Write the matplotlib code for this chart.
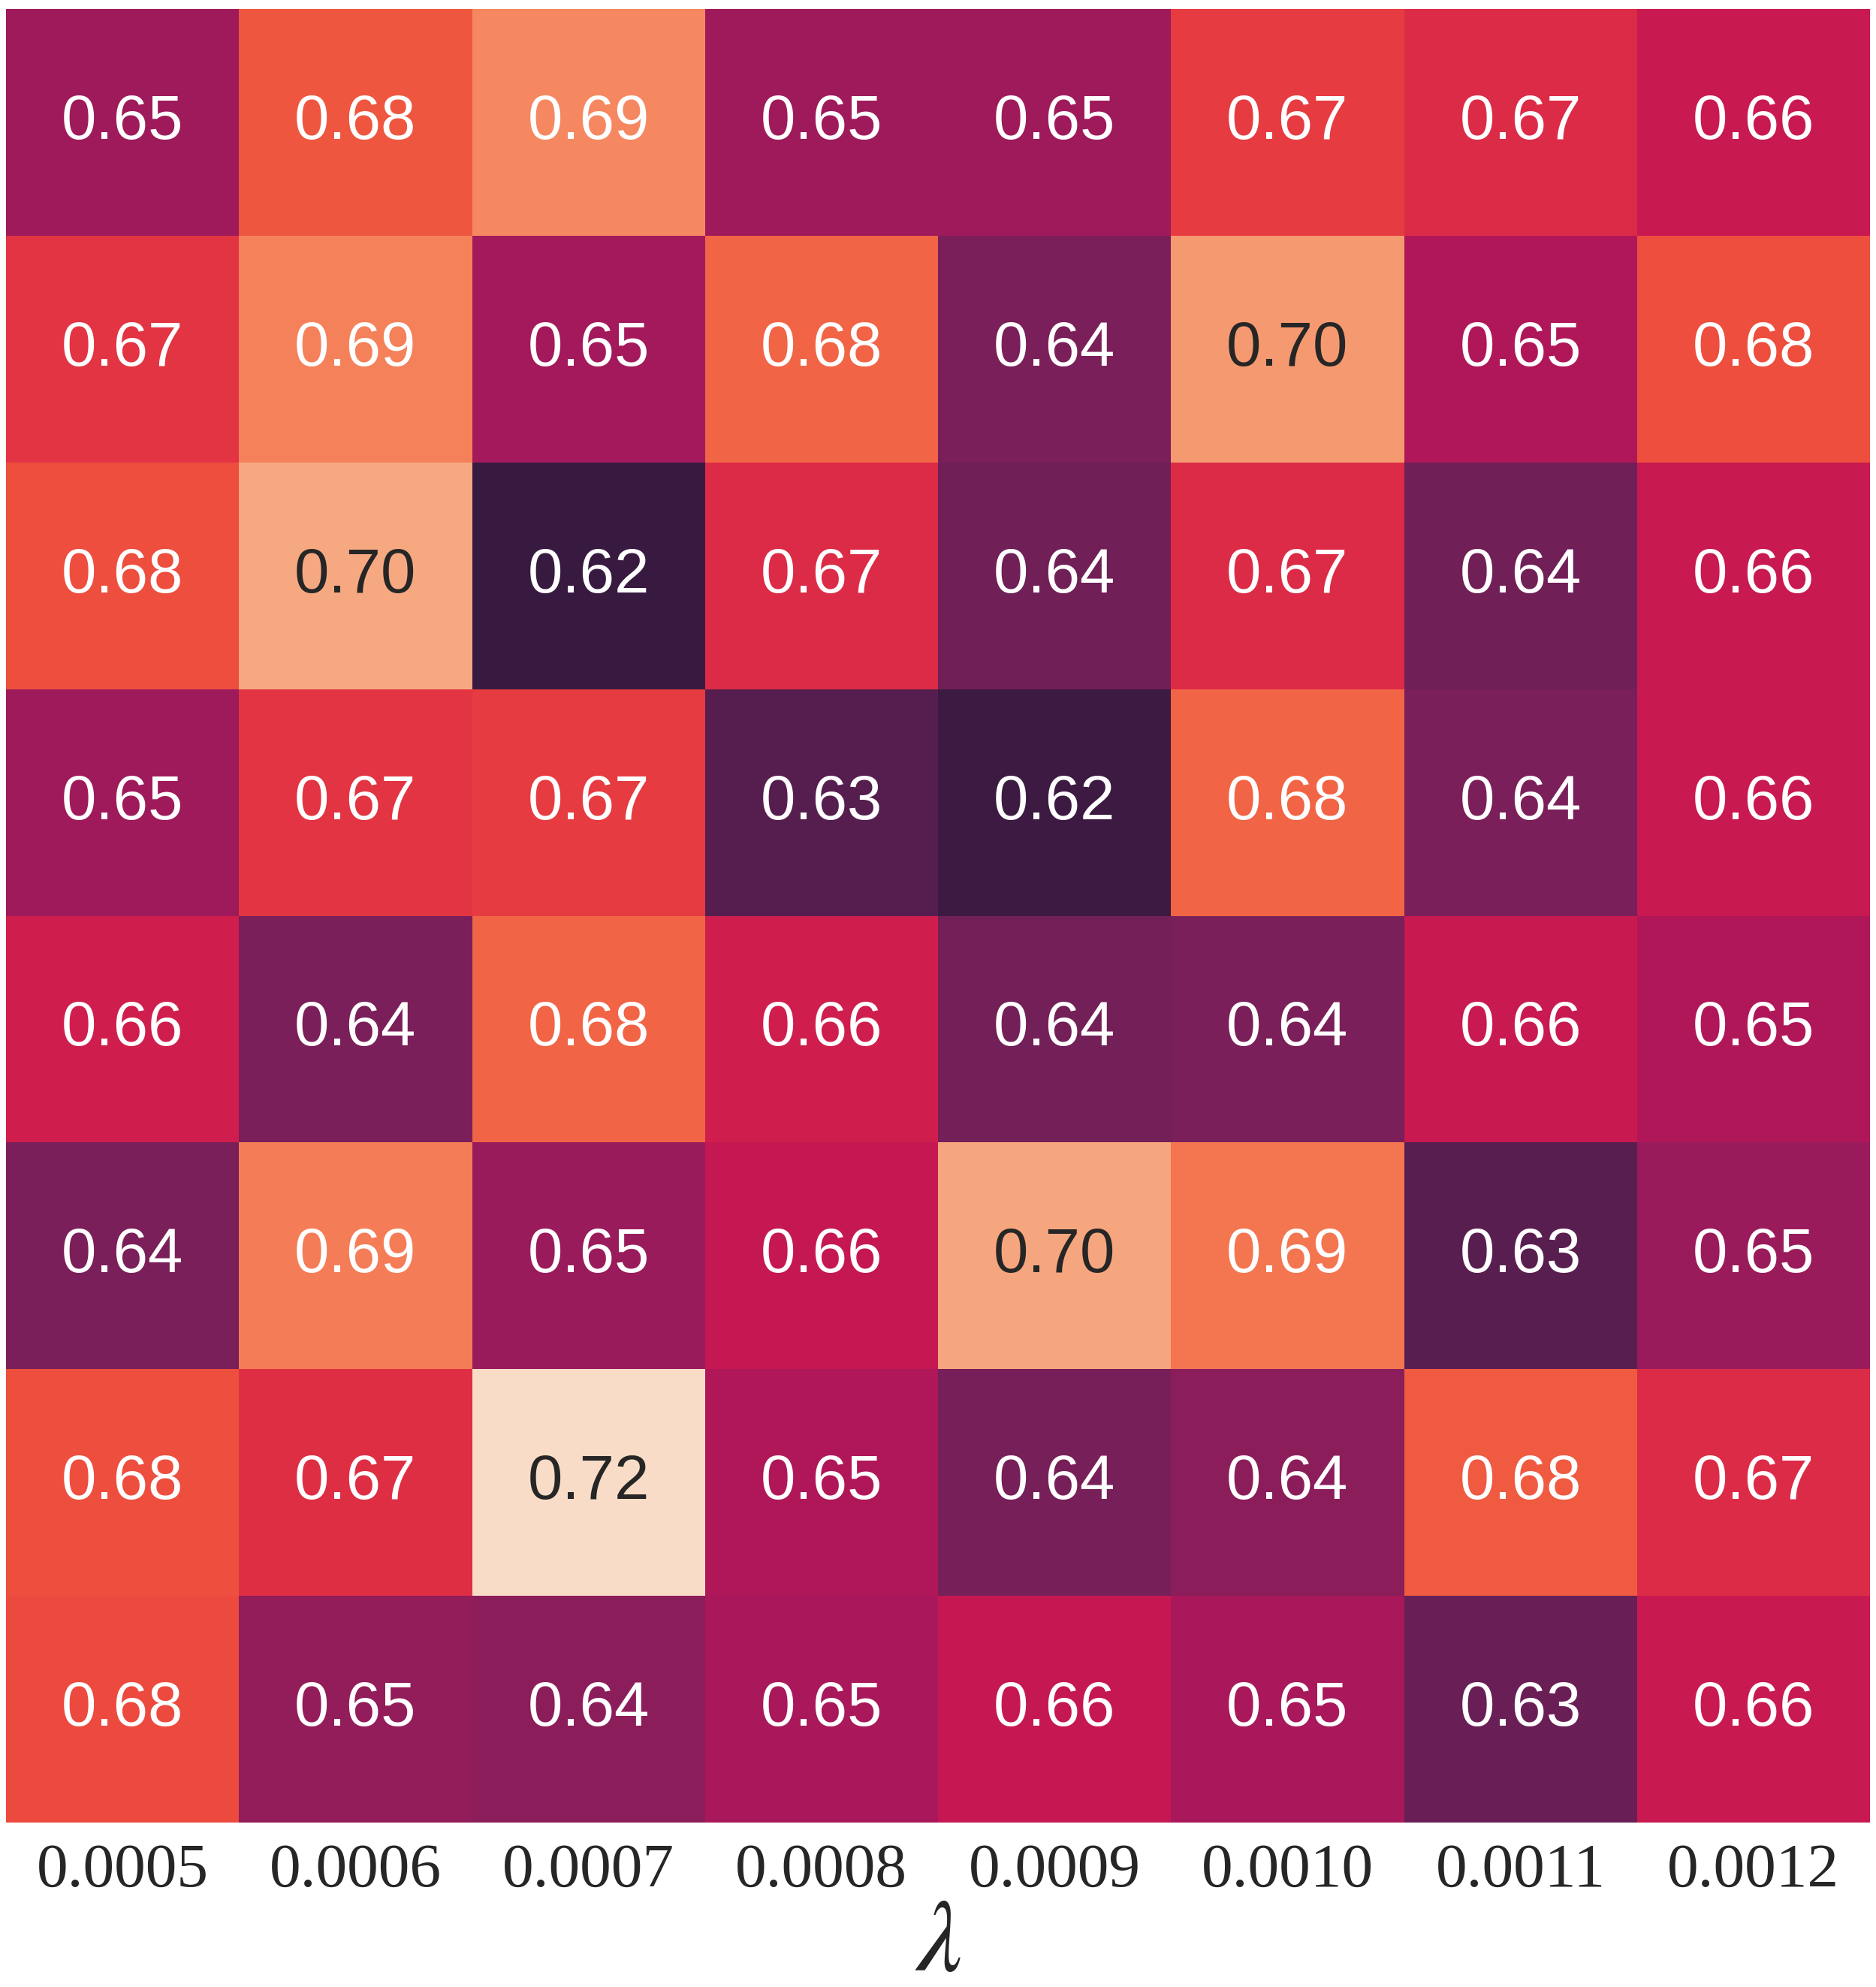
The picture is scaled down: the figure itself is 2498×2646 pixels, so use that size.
import numpy as np
import pandas as pd
import matplotlib
matplotlib.use("Agg")
import matplotlib.pyplot as plt
import seaborn as sns

# lambda values along the x axis
lambdas = ["0.0005", "0.0006", "0.0007", "0.0008", "0.0009", "0.0010", "0.0011", "0.0012"]

# score grid, one list per row (top to bottom)
row_0 = [0.649, 0.681, 0.694, 0.649, 0.649, 0.674, 0.669, 0.662]
row_1 = [0.672, 0.692, 0.651, 0.684, 0.639, 0.699, 0.654, 0.679]
row_2 = [0.679, 0.704, 0.619, 0.669, 0.636, 0.669, 0.636, 0.662]
row_3 = [0.649, 0.672, 0.674, 0.628, 0.620, 0.684, 0.639, 0.662]
row_4 = [0.664, 0.639, 0.684, 0.664, 0.637, 0.639, 0.662, 0.654]
row_5 = [0.639, 0.691, 0.648, 0.661, 0.703, 0.689, 0.629, 0.648]
row_6 = [0.679, 0.670, 0.720, 0.654, 0.638, 0.644, 0.682, 0.669]
row_7 = [0.678, 0.646, 0.644, 0.652, 0.661, 0.652, 0.634, 0.662]

grid = pd.DataFrame([row_0, row_1, row_2, row_3, row_4, row_5, row_6, row_7],
                    columns=lambdas)

sns.set_theme(style="white")
plt.rcParams["mathtext.fontset"] = "stix"

W, H = 2498, 2646
fig = plt.figure(figsize=(W / 100, H / 100), dpi=100)
ax = fig.add_axes([8 / W, 1 - 2427 / H, 2482 / W, 2415 / H])

sns.heatmap(grid, ax=ax, cmap="rocket", vmin=0.60, vmax=0.725, cbar=False,
            annot=True, fmt=".2f", yticklabels=False,
            annot_kws={"size": 60, "family": ["Liberation Sans", "DejaVu Sans"]})

ax.tick_params(axis="x", length=0, pad=19.5, labelsize=60, labelcolor="#262626")
for lab in ax.get_xticklabels():
    lab.set_fontfamily(["Liberation Serif", "DejaVu Serif"])
    lab.set_rotation(0)
ax.set_xlabel(r"$\lambda$", fontsize=98, color="#262626", labelpad=-6)

fig.savefig("out.png", dpi=100)
